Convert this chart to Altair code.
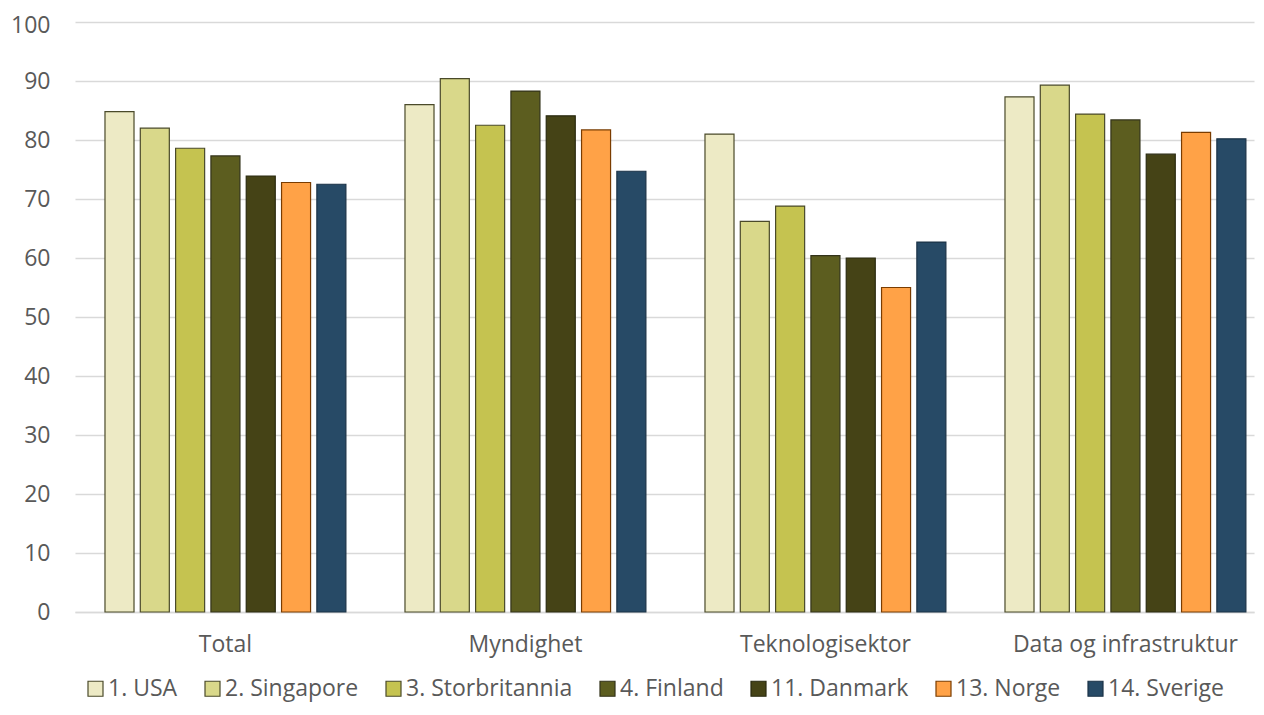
import altair as alt
import pandas as pd

categories = ["Total", "Myndighet", "Teknologisektor", "Data og infrastruktur"]
countries = ["1. USA", "2. Singapore", "3. Storbritannia", "4. Finland",
             "11. Danmark", "13. Norge", "14. Sverige"]
usa = [84.8, 86.0, 81.0, 87.3]
singapore = [82.0, 90.4, 66.2, 89.3]
storbritannia = [78.6, 82.5, 68.8, 84.4]
finland = [77.3, 88.3, 60.4, 83.4]
danmark = [73.9, 84.1, 60.0, 77.6]
norge = [72.8, 81.7, 55.0, 81.3]
sverige = [72.5, 74.7, 62.7, 80.2]

fills = ["#EDEAC5", "#D9D88A", "#C5C350", "#5C5D1F", "#454316", "#FFA247", "#274A66"]
strokes = ["#4A4A2A", "#4A4A2A", "#4A4A2A", "#33331A", "#2A2A10", "#7A3C00", "#1B3347"]

series = [usa, singapore, storbritannia, finland, danmark, norge, sverige]
rows = []
for c, vals in zip(countries, series):
    for cat, v in zip(categories, vals):
        rows.append({"kategori": cat, "land": c, "verdi": v})
df = pd.DataFrame(rows)

font = "Open Sans"
grey = "#595959"

legend_kw = dict(title=None, orient="none", direction="horizontal",
                 columns=7, legendX=9, legendY=655,
                 symbolType="square", symbolSize=225,
                 labelFontSize=23, labelColor=grey, labelFont=font,
                 columnPadding=23, labelOffset=1, symbolStrokeWidth=1.2,
                 labelLimit=400)

chart = alt.Chart(df).mark_bar(strokeWidth=1.2).encode(
    x=alt.X("kategori:N", sort=categories, title=None,
            scale=alt.Scale(paddingInner=0.197, paddingOuter=0.0635, align=0.787),
            axis=alt.Axis(labelAngle=0, ticks=False, domain=True, domainColor="#D9D9D9",
                          domainWidth=1.5, labelFontSize=23, labelColor=grey, labelFont=font,
                          labelPadding=21, labelLimit=400)),
    xOffset=alt.XOffset("land:N", sort=countries, scale=alt.Scale(paddingInner=0.178)),
    y=alt.Y("verdi:Q", title=None, scale=alt.Scale(domain=[0, 100]),
            axis=alt.Axis(values=list(range(0, 101, 10)), ticks=False, domain=False,
                          gridColor="#D9D9D9", gridWidth=1.5, labelFontSize=23,
                          labelColor=grey, labelFont=font, labelPadding=25,
                          labelOffset={"condition": {"test": "datum.value == 100", "value": 3},
                                       "value": 0})),
    fill=alt.Fill("land:N", sort=countries, scale=alt.Scale(domain=countries, range=fills),
                  legend=alt.Legend(**legend_kw)),
    stroke=alt.Stroke("land:N", sort=countries, scale=alt.Scale(domain=countries, range=strokes),
                      legend=alt.Legend(**legend_kw)),
).properties(
    width=1179, height=590,
    autosize=alt.AutoSizeParams(type="none"),
    padding={"left": 67, "top": 14, "right": 1, "bottom": 95},
).configure(background="white").configure_view(stroke=None)

chart.save("out.html", embed_options={"renderer": "svg", "actions": False})
